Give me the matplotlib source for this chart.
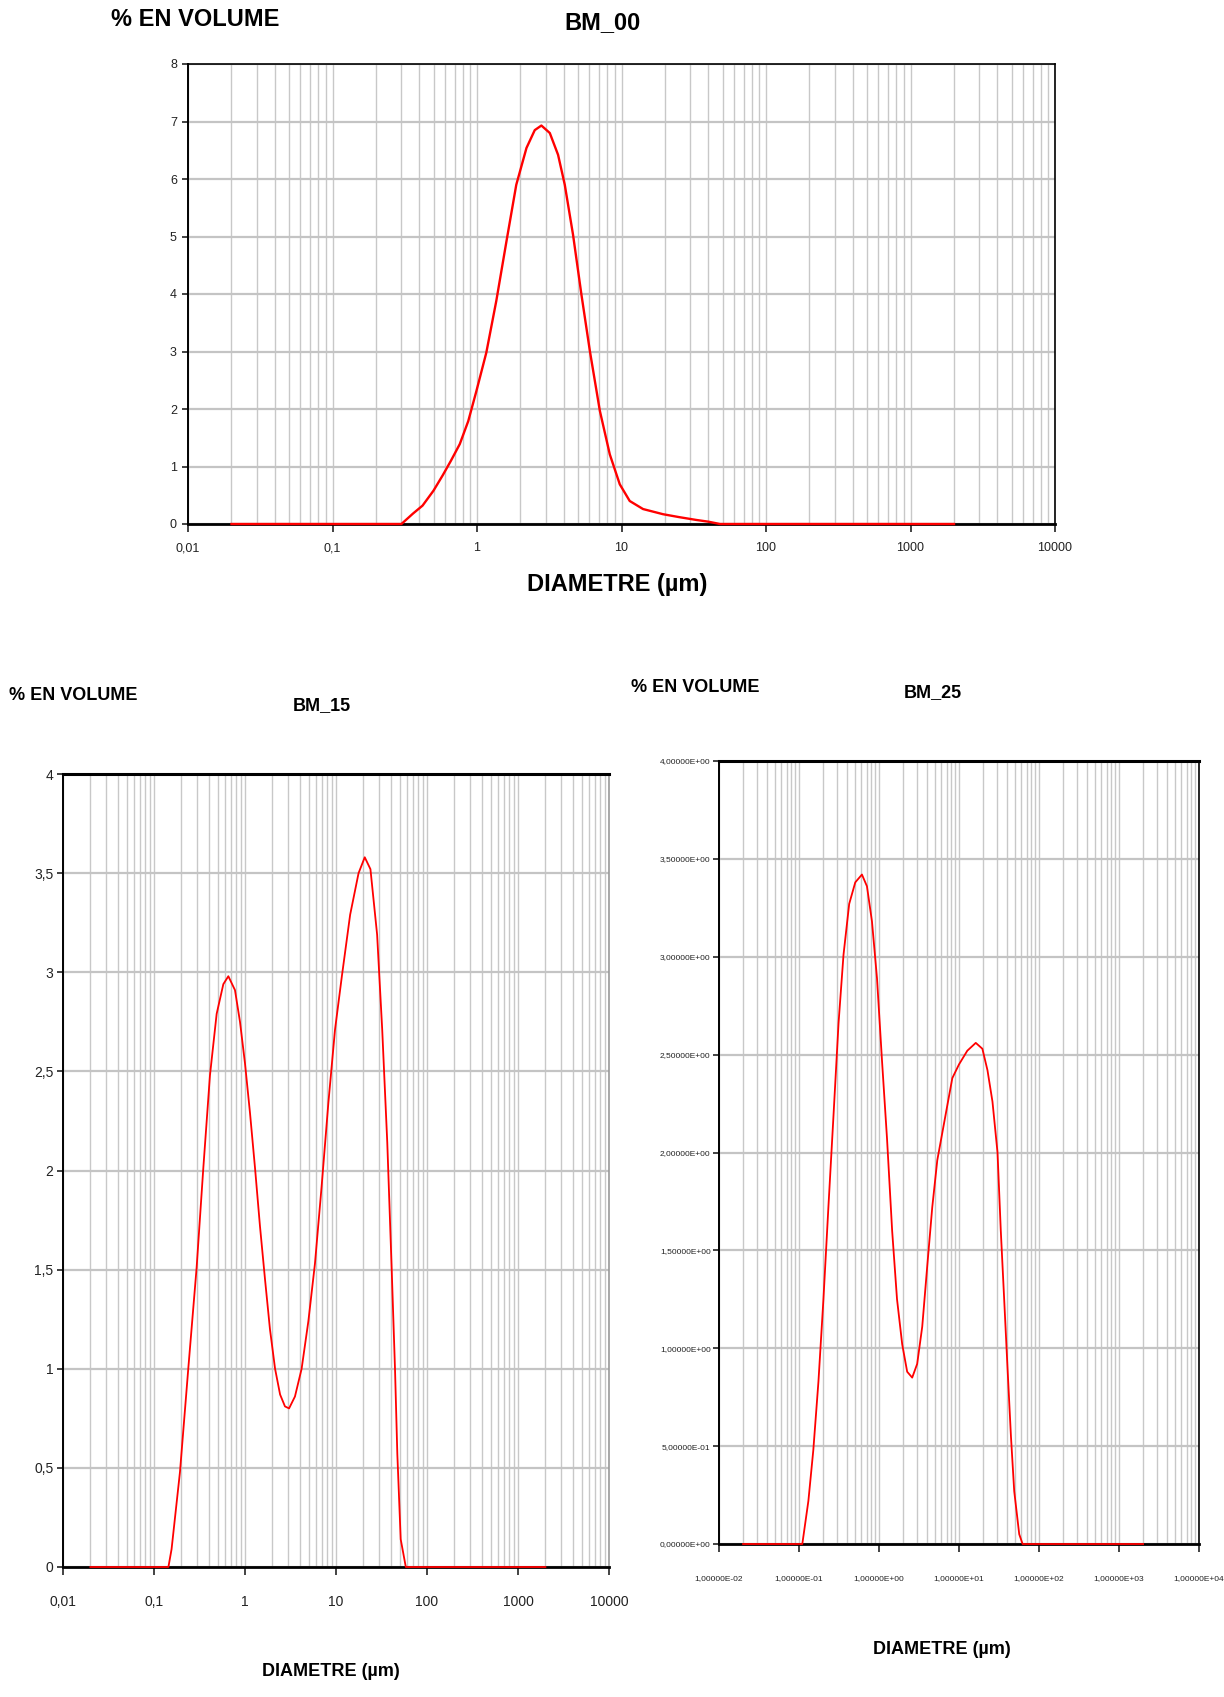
import matplotlib
matplotlib.use("Agg")
import matplotlib.pyplot as plt
from matplotlib.ticker import FixedLocator, FuncFormatter, LogLocator, NullFormatter
import numpy as np

# ---------------------------------------------------------------
# Data: diameter in µm, % volume

d00 = [0.02, 0.30, 0.36, 0.42, 0.50, 0.58, 0.66, 0.76, 0.87, 0.99, 1.16, 1.36,
       1.60, 1.87, 2.20, 2.51, 2.79, 3.19, 3.64, 4.05, 4.62, 5.28, 6.04, 7.08,
       8.30, 9.73, 11.4, 14.1, 19.4, 25.0, 33.0, 40.0, 48.0, 2000]
v00 = [0, 0, 0.18, 0.32, 0.58, 0.85, 1.10, 1.39, 1.79, 2.31, 2.98, 3.88,
       4.92, 5.90, 6.54, 6.85, 6.93, 6.80, 6.42, 5.90, 5.03, 3.99, 3.01, 1.97,
       1.21, 0.69, 0.40, 0.26, 0.17, 0.12, 0.07, 0.04, 0.0, 0]

d15 = [0.02, 0.144, 0.156, 0.193, 0.238, 0.294, 0.348, 0.412, 0.488, 0.578,
       0.656, 0.776, 0.881, 1.0, 1.135, 1.29, 1.46, 1.66, 1.88, 2.14, 2.43,
       2.75, 3.05, 3.54, 4.19, 4.97, 5.87, 6.95, 8.24, 9.75, 11.6, 14.3, 17.7,
       20.7, 23.9, 28.3, 32.2, 36.6, 40.8, 44.5, 47.2, 51.4, 58.5, 2000]
v15 = [0, 0, 0.09, 0.48, 1.00, 1.51, 2.01, 2.48, 2.79, 2.94,
       2.98, 2.91, 2.75, 2.54, 2.29, 2.01, 1.72, 1.45, 1.20, 1.00, 0.87,
       0.81, 0.80, 0.86, 1.00, 1.24, 1.53, 1.92, 2.34, 2.71, 2.98, 3.29, 3.50,
       3.58, 3.52, 3.19, 2.71, 2.14, 1.52, 1.00, 0.57, 0.14, 0, 0]

d25 = [0.02, 0.110, 0.131, 0.151, 0.175, 0.202, 0.233, 0.270, 0.312, 0.360,
       0.424, 0.505, 0.612, 0.707, 0.817, 0.944, 1.09, 1.26, 1.46, 1.68, 1.95,
       2.25, 2.60, 3.00, 3.47, 4.01, 4.63, 5.35, 6.18, 7.14, 8.25, 10.0, 12.7,
       16.2, 19.6, 22.7, 26.2, 30.3, 33.3, 36.7, 40.4, 44.6, 49.0, 56.6, 62.4, 2000]
v25 = [0, 0, 0.22, 0.48, 0.83, 1.25, 1.72, 2.19, 2.66, 3.01,
       3.27, 3.38, 3.42, 3.36, 3.18, 2.89, 2.47, 2.07, 1.60, 1.25, 1.02,
       0.88, 0.85, 0.92, 1.11, 1.42, 1.72, 1.96, 2.10, 2.24, 2.38, 2.45, 2.52,
       2.56, 2.53, 2.42, 2.26, 2.00, 1.60, 1.25, 0.90, 0.55, 0.27, 0.05, 0, 0]

x_ticks = [0.01, 0.1, 1, 10, 100, 1000, 10000]
ylabel_txt = "% EN VOLUME"
xlabel_txt = "DIAMETRE (µm)"

W, H = 1224, 1697
FAM = ["Liberation Sans", "DejaVu Sans"]

fig = plt.figure(figsize=(W / 100, H / 100), dpi=100)


def fx(px):
    return px / W


def fy(py):
    return 1 - py / H


def comma(v, fmt):
    return fmt.format(v).replace(".", ",")


def make_axes(rect_px, d, v, ymax, ystep, xfmt, yfmt, lw, tick_size, xpad, ypad,
              top_lw=1.2, right_color="black"):
    x0, y0, x1, y1 = rect_px
    ax = fig.add_axes([fx(x0), fy(y1), fx(x1 - x0), (y1 - y0) / H])
    ax.set_xscale("log")
    ax.set_xlim(0.01, 10000)
    ax.set_ylim(0, ymax)

    ax.xaxis.set_major_locator(FixedLocator(x_ticks))
    ax.xaxis.set_minor_locator(LogLocator(base=10, subs=np.arange(2, 10), numticks=20))
    ax.xaxis.set_minor_formatter(NullFormatter())
    ax.xaxis.set_major_formatter(FuncFormatter(xfmt))
    ax.set_yticks(np.arange(0, ymax + ystep / 2, ystep))
    ax.yaxis.set_major_formatter(FuncFormatter(yfmt))

    ax.grid(True, which="both", axis="x", color="#c8c8c8", lw=1.0)
    ax.grid(True, which="major", axis="y", color="#c4c4c4", lw=1.6)
    ax.set_axisbelow(True)

    ax.tick_params(axis="x", which="minor", length=0)
    ax.tick_params(axis="x", which="major", direction="out", length=6, width=1.2,
                   pad=xpad, labelsize=tick_size, colors="#222222")
    ax.tick_params(axis="y", direction="out", length=4, width=1.2, pad=ypad,
                   labelsize=tick_size, colors="#222222")
    for lab in ax.get_xticklabels() + ax.get_yticklabels():
        lab.set_family(FAM)

    for s in ["left", "bottom"]:
        ax.spines[s].set_color("black")
        ax.spines[s].set_linewidth(1.4)
    ax.spines["bottom"].set_linewidth(2.0)
    ax.spines["top"].set_color("black")
    ax.spines["top"].set_linewidth(top_lw)
    ax.spines["right"].set_color(right_color)
    ax.spines["right"].set_linewidth(1.2)

    ax.plot(d, v, color="red", lw=lw, clip_on=False, zorder=5)
    return ax


# ---- BM_00 ----
make_axes((188, 64, 1055, 524), d00, v00, 8, 1,
          lambda v, p: comma(v, "{:g}"), lambda v, p: comma(v, "{:g}"),
          lw=1.7, tick_size=9, xpad=7, ypad=4)
fig.text(fx(111), fy(19), ylabel_txt, ha="left", va="center", fontsize=17,
         weight="bold", family=FAM)
fig.text(fx(603), fy(23), "BM_00", ha="center", va="center", fontsize=17,
         weight="bold", family=FAM)
fig.text(fx(617), fy(584), xlabel_txt, ha="center", va="center", fontsize=17,
         weight="bold", family=FAM)

# ---- BM_15 ----
make_axes((63, 774, 609, 1567), d15, v15, 4, 0.5,
          lambda v, p: comma(v, "{:g}"), lambda v, p: comma(v, "{:g}"),
          lw=1.3, tick_size=10, xpad=14, ypad=3, top_lw=2.2, right_color="#999999")
fig.text(fx(9), fy(695), ylabel_txt, ha="left", va="center", fontsize=13,
         weight="bold", family=FAM)
fig.text(fx(322), fy(706), "BM_15", ha="center", va="center", fontsize=13,
         weight="bold", family=FAM)
fig.text(fx(331), fy(1672), xlabel_txt, ha="center", va="center", fontsize=13,
         weight="bold", family=FAM)

# ---- BM_25 ----
make_axes((719, 761, 1199, 1544), d25, v25, 4, 0.5,
          lambda v, p: comma(v, "{:.5E}"), lambda v, p: comma(v, "{:.5E}"),
          lw=1.3, tick_size=6, xpad=16, ypad=2, top_lw=2.2)
fig.text(fx(631), fy(687), ylabel_txt, ha="left", va="center", fontsize=13,
         weight="bold", family=FAM)
fig.text(fx(933), fy(693), "BM_25", ha="center", va="center", fontsize=13,
         weight="bold", family=FAM)
fig.text(fx(942), fy(1650), xlabel_txt, ha="center", va="center", fontsize=13,
         weight="bold", family=FAM)

fig.savefig("out.png", dpi=100)
